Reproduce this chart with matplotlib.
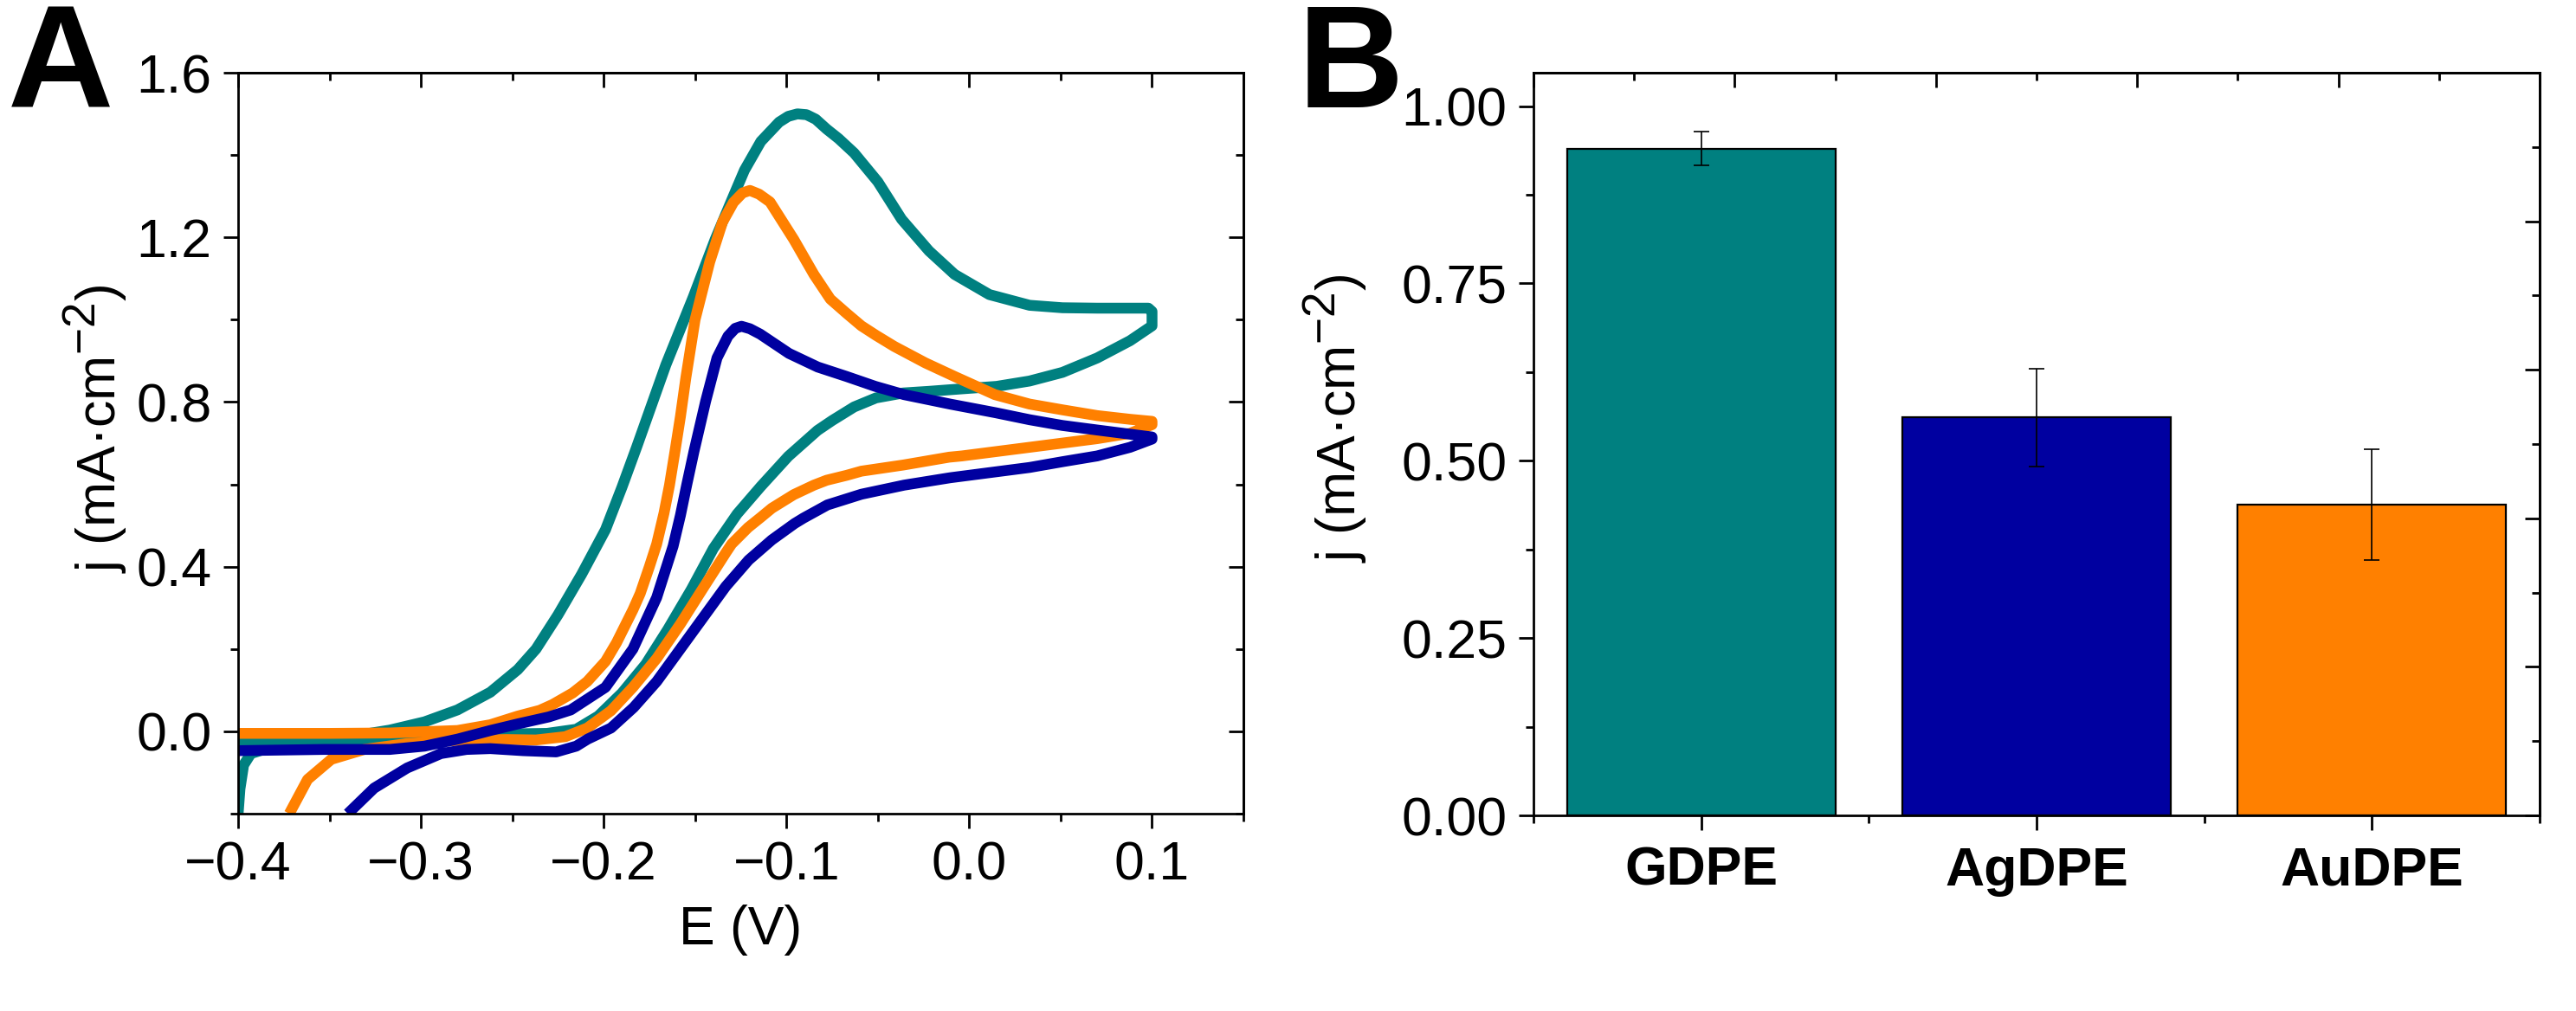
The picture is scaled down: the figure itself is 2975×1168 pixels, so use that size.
import numpy as np
import matplotlib
matplotlib.use("Agg")
import matplotlib.pyplot as plt
import matplotlib._mathtext as mtext
from matplotlib.ticker import MultipleLocator

plt.rcParams['font.family'] = ['Liberation Sans', 'DejaVu Sans']
plt.rcParams['mathtext.fontset'] = 'custom'
plt.rcParams['mathtext.rm'] = 'Liberation Sans'
plt.rcParams['mathtext.it'] = 'Liberation Sans'
plt.rcParams['mathtext.bf'] = 'Liberation Sans:bold'
mtext.SHRINK_FACTOR = 0.85   # superscript in the original is nearly full size

# ---- panel A : cyclic voltammograms ----
# teal curve
teal_fx = [-0.400, -0.370, -0.350, -0.335, -0.317, -0.298, -0.280, -0.262, -0.247, -0.237,
           -0.225, -0.212, -0.199, -0.190, -0.182, -0.166, -0.151, -0.139, -0.130, -0.123,
           -0.114, -0.104, -0.099, -0.094, -0.089, -0.084, -0.078, -0.0715, -0.063, -0.050,
           -0.037, -0.022, -0.008, 0.011, 0.033, 0.051, 0.070, 0.098, 0.100]
teal_fy = [-0.030, -0.025, -0.018, -0.010, 0.003, 0.023, 0.052, 0.095, 0.150, 0.200,
           0.283, 0.382, 0.490, 0.593, 0.690, 0.890, 1.055, 1.195, 1.290, 1.363,
           1.433, 1.480, 1.494, 1.500, 1.498, 1.487, 1.463, 1.440, 1.405, 1.335,
           1.244, 1.167, 1.110, 1.061, 1.035, 1.029, 1.028, 1.028, 1.020]
teal_rx = [0.100, 0.088, 0.070, 0.051, 0.033, 0.015, -0.004, -0.022, -0.036, -0.051,
           -0.063, -0.075, -0.083, -0.099, -0.114, -0.127, -0.140, -0.152, -0.165, -0.177,
           -0.190, -0.203, -0.215, -0.231, -0.247, -0.270, -0.298, -0.330, -0.360, -0.380,
           -0.393, -0.397, -0.399, -0.400]
teal_ry = [0.985, 0.949, 0.907, 0.872, 0.851, 0.838, 0.832, 0.826, 0.822, 0.810,
           0.788, 0.755, 0.731, 0.668, 0.595, 0.528, 0.444, 0.345, 0.247, 0.163,
           0.093, 0.037, 0.005, -0.005, -0.006, -0.008, -0.012, -0.020, -0.028, -0.036,
           -0.054, -0.082, -0.140, -0.200]

# orange curve
orange_fx = [-0.400, -0.350, -0.317, -0.280, -0.262, -0.247, -0.235, -0.228, -0.217, -0.209,
             -0.199, -0.193, -0.184, -0.180, -0.175, -0.171, -0.167, -0.164, -0.161, -0.158,
             -0.155, -0.150, -0.142, -0.135, -0.129, -0.124, -0.120, -0.115, -0.109, -0.096,
             -0.085, -0.076, -0.067, -0.059, -0.051, -0.041, -0.024, -0.008, 0.014, 0.033,
             0.051, 0.070, 0.088, 0.100]
orange_fy = [-0.005, -0.005, -0.004, 0.002, 0.016, 0.037, 0.051, 0.065, 0.093, 0.121,
             0.170, 0.215, 0.295, 0.335, 0.400, 0.455, 0.530, 0.598, 0.680, 0.765,
             0.860, 1.000, 1.140, 1.237, 1.285, 1.308, 1.314, 1.305, 1.286, 1.195,
             1.110, 1.050, 1.015, 0.985, 0.962, 0.935, 0.895, 0.862, 0.818, 0.795,
             0.781, 0.767, 0.758, 0.753]
orange_rx = [0.100, 0.088, 0.070, 0.033, -0.004, -0.011, -0.036, -0.059, -0.067, -0.078,
             -0.085, -0.096, -0.108, -0.114, -0.121, -0.130, -0.133, -0.146, -0.158, -0.171,
             -0.184, -0.196, -0.209, -0.221, -0.237, -0.253, -0.280, -0.308, -0.331, -0.349,
             -0.362, -0.372]
orange_ry = [0.745, 0.724, 0.711, 0.690, 0.669, 0.666, 0.647, 0.632, 0.622, 0.610,
             0.598, 0.575, 0.542, 0.520, 0.495, 0.455, 0.435, 0.345, 0.261, 0.177,
             0.107, 0.050, 0.008, -0.013, -0.021, -0.020, -0.022, -0.030, -0.044, -0.068,
             -0.117, -0.200]

# blue curve
blue_fx = [-0.400, -0.353, -0.317, -0.298, -0.280, -0.262, -0.247, -0.230, -0.218, -0.199,
           -0.184, -0.171, -0.162, -0.158, -0.1545, -0.1506, -0.1442, -0.138, -0.132, -0.128,
           -0.1246, -0.120, -0.1144, -0.0986, -0.0829, -0.0671, -0.0514, -0.0357, -0.0105, 0.0144,
           0.033, 0.051, 0.070, 0.100]
blue_fy = [-0.047, -0.044, -0.044, -0.036, -0.019, 0.002, 0.018, 0.035, 0.052, 0.107,
           0.200, 0.325, 0.450, 0.525, 0.600, 0.680, 0.802, 0.907, 0.960, 0.979,
           0.984, 0.978, 0.965, 0.918, 0.885, 0.862, 0.838, 0.818, 0.795, 0.774,
           0.757, 0.743, 0.732, 0.715]
blue_rx = [0.100, 0.088, 0.070, 0.051, 0.033, -0.0105, -0.0357, -0.059, -0.0776, -0.0907,
           -0.0955, -0.108, -0.1207, -0.1332, -0.1458, -0.1584, -0.171, -0.1836, -0.196, -0.2088,
           -0.215, -0.226, -0.244, -0.262, -0.275, -0.289, -0.3075, -0.3256, -0.340]
blue_ry = [0.710, 0.690, 0.669, 0.655, 0.641, 0.616, 0.598, 0.576, 0.550, 0.518,
           0.505, 0.465, 0.416, 0.352, 0.275, 0.198, 0.121, 0.058, 0.008, -0.019,
           -0.036, -0.050, -0.047, -0.042, -0.044, -0.054, -0.089, -0.138, -0.200]

# ---- panel B : bar chart ----
electrodes = ['GDPE', 'AgDPE', 'AuDPE']
j_mean = [0.940, 0.561, 0.438]
j_err = [0.024, 0.069, 0.078]

teal = '#008080'
blue = '#0000A0'
orange = '#FF8000'

fig = plt.figure(figsize=(29.75, 11.68), dpi=100)
axA = fig.add_axes([275/2975, 1-940/1168, 1161/2975, 856/1168])
axB = fig.add_axes([1771/2975, 1-942/1168, 1162/2975, 858/1168])

FS = 45
LFS = 45
for x_f, y_f, x_r, y_r, c in [(teal_fx, teal_fy, teal_rx, teal_ry, teal),
                              (orange_fx, orange_fy, orange_rx, orange_ry, orange),
                              (blue_fx, blue_fy, blue_rx, blue_ry, blue)]:
    xs = np.concatenate([x_f, x_r])
    ys = np.concatenate([y_f, y_r])
    axA.plot(xs, ys, color=c, lw=9, solid_joinstyle='round', solid_capstyle='butt')

axA.set_xlim(-0.4, 0.15)
axA.set_ylim(-0.2, 1.6)
axA.xaxis.set_minor_locator(MultipleLocator(0.05))
axA.yaxis.set_minor_locator(MultipleLocator(0.2))
axA.set_xticks([-0.4, -0.3, -0.2, -0.1, 0.0, 0.1])
axA.set_xticklabels(['\u22120.4', '\u22120.3', '\u22120.2', '\u22120.1', '0.0', '0.1'])
axA.set_yticks([0.0, 0.4, 0.8, 1.2, 1.6])
axA.set_yticklabels(['0.0', '0.4', '0.8', '1.2', '1.6'])
axA.set_xlabel('E (V)', fontsize=LFS)
axA.set_ylabel('j (mA\u00b7cm$^{-2}$)', fontsize=LFS)
axA.xaxis.set_label_coords(0.5, -0.157)
axA.xaxis.label.set_va('center')
axA.yaxis.set_label_coords(-0.142, 0.52)
axA.yaxis.label.set_va('center')

tA = axA.secondary_xaxis('top')
tA.xaxis.set_major_locator(MultipleLocator(0.1))
tA.xaxis.set_minor_locator(MultipleLocator(0.05))
rA = axA.secondary_yaxis('right')
rA.yaxis.set_major_locator(MultipleLocator(0.4))
rA.yaxis.set_minor_locator(MultipleLocator(0.2))

# bars
xpos = np.arange(len(electrodes))
axB.bar(xpos, j_mean, width=0.8, color=[teal, blue, orange], edgecolor='black', linewidth=1.6)
axB.errorbar(xpos, j_mean, yerr=j_err, fmt='none', ecolor='black', elinewidth=1.2,
             capsize=6.5, capthick=1.2)
axB.set_xlim(-0.5, 2.5)
axB.set_ylim(0, 1.047)
axB.set_xticks(xpos)
axB.set_xticklabels(electrodes, fontsize=FS + 3, fontweight='bold')
axB.xaxis.set_minor_locator(MultipleLocator(0.5))
axB.yaxis.set_minor_locator(MultipleLocator(0.125))
axB.set_yticks([0.0, 0.25, 0.5, 0.75, 1.0])
axB.set_yticklabels(['0.00', '0.25', '0.50', '0.75', '1.00'])
axB.set_ylabel('j (mA\u00b7cm$^{-2}$)', fontsize=LFS)
axB.yaxis.set_label_coords(-0.197, 0.535)
axB.yaxis.label.set_va('center')

tB = axB.secondary_xaxis('top', functions=(lambda x: (x + 0.5) / 3.0, lambda v: v * 3.0 - 0.5))
tB.xaxis.set_major_locator(MultipleLocator(0.2))
tB.xaxis.set_minor_locator(MultipleLocator(0.1))
rB = axB.secondary_yaxis('right', functions=(lambda y: y / 1.047, lambda v: v * 1.047))
rB.yaxis.set_major_locator(MultipleLocator(0.2))
rB.yaxis.set_minor_locator(MultipleLocator(0.1))

for ax in (axA, axB):
    for s in ax.spines.values():
        s.set_linewidth(2.0)
    ax.tick_params(which='major', direction='out', length=12, width=2, labelsize=FS, pad=10)
    ax.tick_params(which='minor', direction='out', length=6.5, width=2)
axB.tick_params(axis='x', which='major', pad=13)

for sec in (tA, rA, tB, rB):
    for s in sec.spines.values():
        s.set_linewidth(2.0)
    sec.tick_params(which='major', direction='in', length=12, width=2,
                    labelleft=False, labelright=False, labeltop=False, labelbottom=False)
    sec.tick_params(which='minor', direction='in', length=6.5, width=2)

fig.text(70/2975, 1-80/1168, 'A', fontsize=122, fontweight='bold', ha='center', va='center')
fig.text(1560/2975, 1-80/1168, 'B', fontsize=122, fontweight='bold', ha='center', va='center')

fig.savefig('out.png', dpi=100)
